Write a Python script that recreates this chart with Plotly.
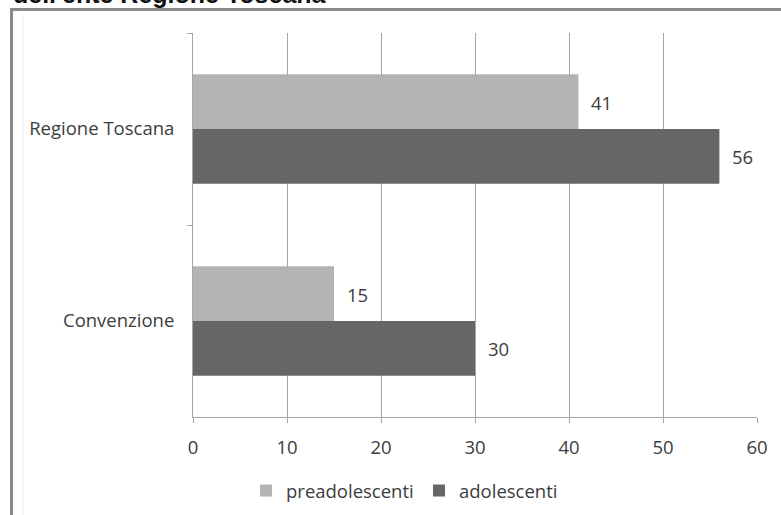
import plotly.graph_objects as go

categories = ["Regione Toscana", "Convenzione"]
series_names = ["preadolescenti", "adolescenti"]
preadolescenti = [41, 15]
adolescenti = [56, 30]
x_ticks = [0, 10, 20, 30, 40, 50, 60]
title_text = "dell'ente Regione Toscana"

W, H = 781, 515
L, R, T, B = 193, 24, 33, 98
PW, PH = W - L - R, H - T - B


def px_x(p):
    return (p - L) / PW


def px_y(p):
    return (H - B - p) / PH


FONT = "Open Sans"
FS = 18.5
TXT = "#3c3c3c"
colors = ["#b3b3b3", "#666666"]

fig = go.Figure()
for name, vals, col in zip(series_names, [preadolescenti, adolescenti], colors):
    fig.add_trace(go.Bar(
        y=categories, x=vals, name=name, orientation="h",
        marker=dict(color=col, line=dict(width=0)),
        hoverinfo="x+y",
    ))

# value labels derived from data
annotations = []
for i, vals in enumerate([preadolescenti, adolescenti]):
    for j, v in enumerate(vals):
        annotations.append(dict(
            x=v, y=categories[j], xref="x", yref="y",
            text=str(v), showarrow=False, xanchor="left",
            xshift=11, yshift=27 if i == 0 else -27,
            font=dict(family=FONT, size=FS, color=TXT),
        ))

annotations.append(dict(
    x=px_x(11), y=px_y(10), xref="paper", yref="paper",
    text="<b>" + title_text + "</b>", showarrow=False,
    xanchor="left", yanchor="bottom",
    font=dict(family="Liberation Sans, Arial", size=25, color="#111111"),
))

shapes = [
    dict(type="line", xref="paper", yref="paper",
         x0=px_x(11.5), x1=px_x(11.5), y0=px_y(9), y1=px_y(H + 5),
         line=dict(color="#8a8a8a", width=3)),
    dict(type="line", xref="paper", yref="paper",
         x0=px_x(10), x1=px_x(W + 5), y0=px_y(9.5), y1=px_y(9.5),
         line=dict(color="#8a8a8a", width=3)),
    dict(type="line", xref="paper", yref="paper",
         x0=px_x(23), x1=px_x(23), y0=px_y(14), y1=px_y(H + 5),
         line=dict(color="#ececec", width=1)),
]

fig.update_layout(
    template="none",
    width=W, height=H,
    margin=dict(l=L, r=R, t=T, b=B, pad=0, autoexpand=False),
    paper_bgcolor="white", plot_bgcolor="white",
    barmode="group", bargap=0.43, bargroupgap=0,
    font=dict(family=FONT, size=FS, color=TXT),
    showlegend=True,
    legend=dict(
        orientation="h", x=px_x(246), y=px_y(491),
        xanchor="left", yanchor="middle",
        font=dict(family=FONT, size=FS, color=TXT),
        itemwidth=30, entrywidth=128, entrywidthmode="pixels",
        bgcolor="rgba(0,0,0,0)",
    ),
    xaxis=dict(
        range=[0, 60], tickvals=x_ticks, ticktext=[str(t) for t in x_ticks],
        showgrid=True, gridcolor="#a6a6a6", gridwidth=1,
        showline=True, linecolor="#a6a6a6", linewidth=1,
        ticks="outside", ticklen=5, tickcolor="#a6a6a6", tickwidth=1,
        ticklabelstandoff=9, zeroline=False, fixedrange=True,
        tickfont=dict(family=FONT, size=FS, color=TXT),
    ),
    yaxis=dict(
        categoryorder="array", categoryarray=categories,
        autorange="reversed",
        showgrid=False, showline=True, linecolor="#a6a6a6", linewidth=1,
        ticks="outside", ticklen=5, tickcolor="#a6a6a6", tickwidth=1,
        tickson="boundaries", ticklabelstandoff=14,
        tickfont=dict(family=FONT, size=FS, color=TXT),
        fixedrange=True, zeroline=False,
    ),
    annotations=annotations,
    shapes=shapes,
)

fig.write_html(
    "out.html",
    config={"displayModeBar": False},
    post_script="document.body.style.margin='0';document.body.style.padding='0';",
)
